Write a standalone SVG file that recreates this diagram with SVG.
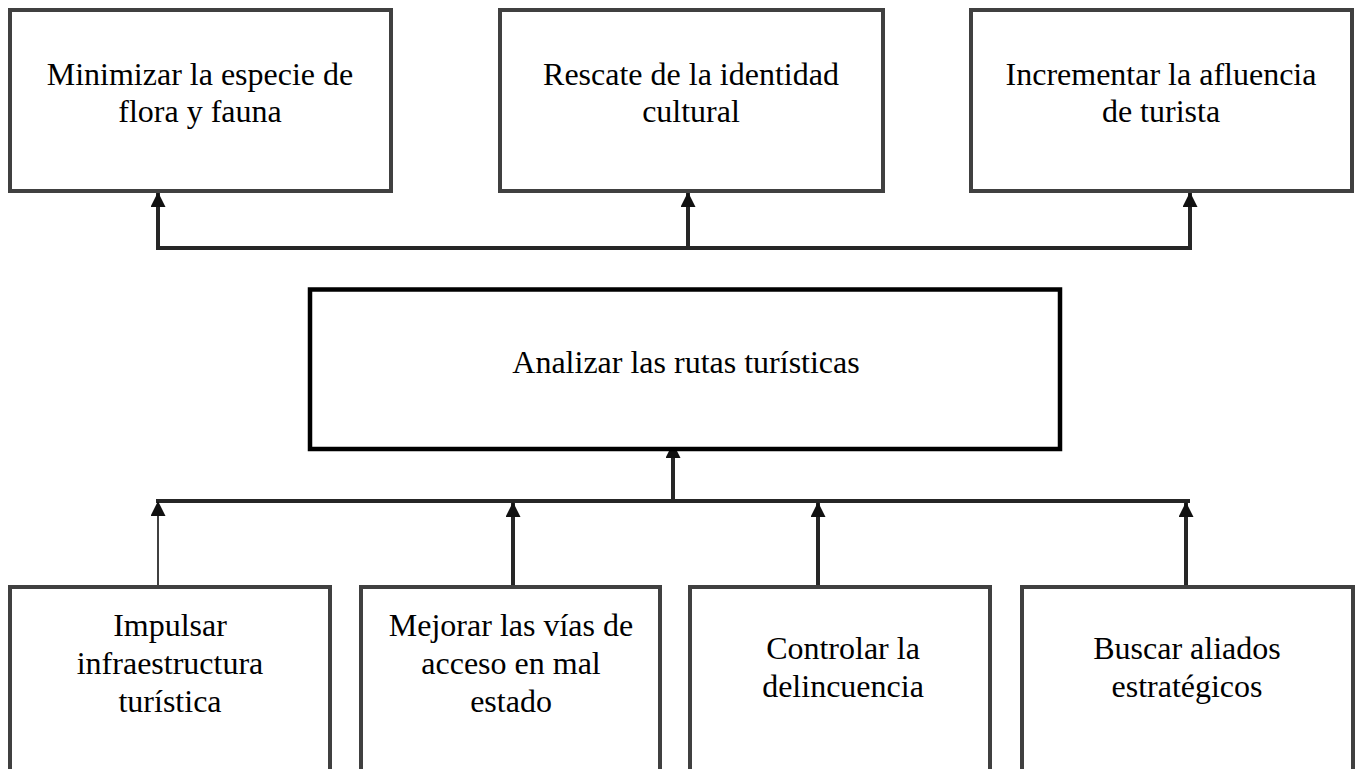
<svg xmlns="http://www.w3.org/2000/svg" width="1359" height="769" viewBox="0 0 1359 769">
<style>
.box{fill:#fff;stroke:#404040;stroke-width:4}
.main{fill:#fff;stroke:#000;stroke-width:4.5}
.t{font-family:"Liberation Serif","Times New Roman",serif;font-size:32px;fill:#000;text-anchor:middle}
.c{fill:none;stroke:#262626;stroke-width:4}
.thin{fill:none;stroke:#000;stroke-width:1.5}
</style>
<defs>
<marker id="ah" markerUnits="userSpaceOnUse" markerWidth="15" markerHeight="15" viewBox="0 0 15 15" refX="14" refY="7.5" orient="auto">
<path d="M0,0 L15,7.5 L0,15 z" fill="#111"/>
</marker>
</defs>
<rect width="1359" height="769" fill="#fff"/>
<g id="connectors">
<path class="c" d="M156,248 H1192" stroke="#000"/>
<path class="c" d="M158,250 V193" marker-end="url(#ah)"/>
<path class="c" d="M688,250 V193" marker-end="url(#ah)"/>
<path class="c" d="M1190,250 V193" marker-end="url(#ah)"/>
<path class="c" d="M156,501 H1190"/>
<path class="c" d="M673,503 V444" marker-end="url(#ah)"/>
<path class="thin" d="M158,588 V502" marker-end="url(#ah)"/>
<path class="c" d="M513,588 V503" marker-end="url(#ah)"/>
<path class="c" d="M818,588 V503" marker-end="url(#ah)"/>
<path class="c" d="M1186,588 V503" marker-end="url(#ah)"/>
</g>
<g id="n1"><rect class="box" x="10" y="10" width="381" height="181"/>
<text class="t" x="200" y="85">Minimizar la especie de</text><text class="t" x="200" y="122">flora y fauna</text></g>
<g id="n2"><rect class="box" x="500" y="10" width="383" height="181"/>
<text class="t" x="691" y="85">Rescate de la identidad</text><text class="t" x="691" y="122">cultural</text></g>
<g id="n3"><rect class="box" x="971" y="10" width="381" height="181"/>
<text class="t" x="1161" y="85">Incrementar la afluencia</text><text class="t" x="1161" y="122">de turista</text></g>
<g id="center"><rect class="main" x="310" y="289.5" width="750" height="159.5"/>
<text class="t" x="686" y="373">Analizar las rutas turísticas</text></g>
<g id="b1"><rect class="box" x="10" y="587" width="320" height="200"/>
<text class="t" x="170" y="636">Impulsar</text><text class="t" x="170" y="674">infraestructura</text><text class="t" x="170" y="712">turística</text></g>
<g id="b2"><rect class="box" x="361" y="587" width="299" height="200"/>
<text class="t" x="511" y="636">Mejorar las vías de</text><text class="t" x="511" y="674">acceso en mal</text><text class="t" x="511" y="712">estado</text></g>
<g id="b3"><rect class="box" x="690" y="587" width="300" height="200"/>
<text class="t" x="843" y="659">Controlar la</text><text class="t" x="843" y="697">delincuencia</text></g>
<g id="b4"><rect class="box" x="1022" y="587" width="331" height="200"/>
<text class="t" x="1187" y="659">Buscar aliados</text><text class="t" x="1187" y="697">estratégicos</text></g>
</svg>
